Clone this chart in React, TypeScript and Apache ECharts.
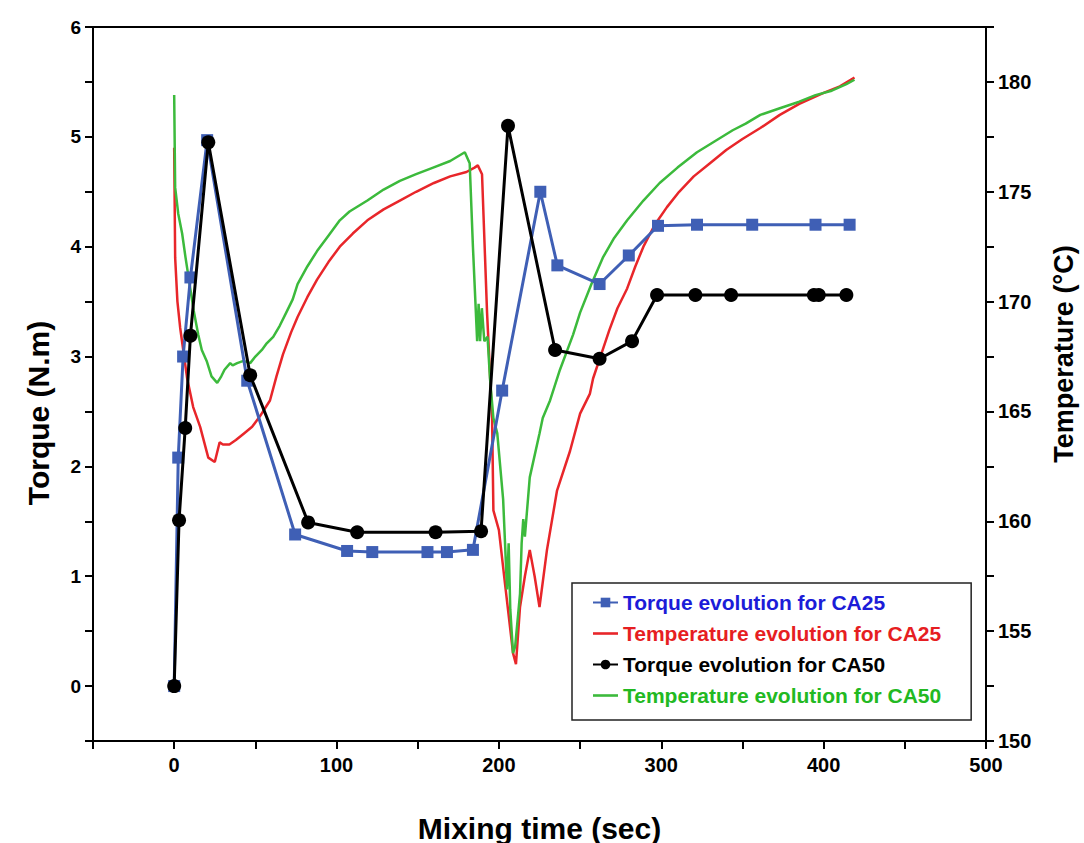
import React, { useEffect, useRef } from "react";
import * as echarts from "echarts";

const torqueCA25Time = [0, 2.5, 5.5, 10, 20.3, 45, 74.5, 106.5, 122, 156, 168, 184, 202, 225.5, 236, 262, 280, 298, 322, 356, 395, 416];
const torqueCA25Values = [0, 2.08, 3.0, 3.72, 4.97, 2.78, 1.38, 1.23, 1.22, 1.22, 1.22, 1.24, 2.69, 4.5, 3.83, 3.66, 3.92, 4.19, 4.2, 4.2, 4.2, 4.2];

const torqueCA50Time = [0, 3, 6.8, 10, 21, 46.8, 82.5, 112.7, 161, 189, 205.6, 234.6, 262, 282, 297.4, 321, 343, 394, 397, 414];
const torqueCA50Values = [0, 1.51, 2.35, 3.19, 4.95, 2.83, 1.49, 1.4, 1.4, 1.41, 5.1, 3.06, 2.98, 3.14, 3.56, 3.56, 3.56, 3.56, 3.56, 3.56];

const tempCA25Time = [0, 0.6, 2, 3.7, 8, 11.7, 16, 21, 25, 28, 30, 34, 38, 43, 48, 53, 59, 63, 67, 72, 76, 82, 88, 95, 102, 110, 119, 129, 139, 149, 160, 170, 180, 185, 187, 189.6, 192.7, 195.8, 196.6, 200, 204, 208.7, 210.5, 213, 216, 219, 222, 225, 229.6, 235.8, 243.8, 250, 256, 258, 263, 268, 273, 279, 284, 289, 296, 303.5, 311, 320, 330, 340, 350, 361, 373, 385, 400, 410, 419];
const tempCA25Values = [177, 172, 170, 168.8, 166.5, 165.2, 164.3, 162.9, 162.7, 163.6, 163.5, 163.5, 163.7, 164, 164.3, 164.8, 165.5, 166.6, 167.6, 168.6, 169.3, 170.2, 171, 171.8, 172.5, 173.1, 173.7, 174.2, 174.6, 175, 175.4, 175.7, 175.9, 176.1, 176.2, 175.8, 169.5, 164.7, 160.5, 159.6, 157, 154, 153.5, 156.1, 157.5, 158.7, 157.5, 156.1, 158.7, 161.4, 163.2, 164.9, 165.8, 166.5, 167.6, 168.7, 169.7, 170.6, 171.6, 172.5, 173.5, 174.3, 175, 175.7, 176.3, 176.9, 177.4, 177.9, 178.5, 179, 179.5, 179.8, 180.2];

const tempCA50Time = [0, 0.6, 2.5, 4.9, 7, 9.9, 12, 14.8, 17, 20, 23, 26.5, 29, 31, 34.5, 36, 38.8, 42.7, 46.8, 50, 54, 57, 61, 65, 69, 73, 76, 82, 88, 95, 102, 108, 119, 129, 139, 149, 159.5, 170, 179, 182, 184, 186.6, 187.5, 188.4, 189.5, 191, 193, 194.5, 196.6, 199, 202.6, 205, 206, 207, 208.7, 210, 213, 214, 215, 216, 219, 225, 227, 231.5, 237.6, 245.7, 250, 257, 264, 271, 279, 289, 299, 310, 322, 333, 344, 352, 361, 373, 385, 395, 405, 414, 419];
const tempCA50Values = [179.4, 175.2, 174, 173.1, 172, 170.6, 169.6, 168.5, 167.8, 167.3, 166.6, 166.3, 166.6, 166.9, 167.2, 167.1, 167.2, 167.3, 167.2, 167.5, 167.8, 168.1, 168.4, 168.9, 169.5, 170.1, 170.8, 171.6, 172.3, 173, 173.7, 174.1, 174.6, 175.1, 175.5, 175.8, 176.1, 176.4, 176.8, 176.3, 172.5, 168.2, 169.9, 168.2, 169.7, 168.2, 168.4, 166.5, 164.7, 164, 161, 156.9, 159, 156, 154, 154.3, 156.7, 159, 160.1, 159.3, 162, 164, 164.7, 165.5, 166.9, 168.5, 169.5, 170.8, 172, 172.9, 173.7, 174.6, 175.4, 176.1, 176.8, 177.3, 177.8, 178.1, 178.5, 178.8, 179.1, 179.4, 179.6, 179.9, 180.1];

const seriesNames = [
  "Torque evolution for CA25",
  "Temperature evolution for CA25",
  "Torque evolution for CA50",
  "Temperature evolution for CA50",
];

const zip = (xs: number[], ys: number[]) => xs.map((x, i) => [x, ys[i]]);

const NARROW = "'Liberation Sans Narrow', 'Arial Narrow', 'Liberation Sans', Arial, sans-serif";
const SANS = "'Liberation Sans', Arial, sans-serif";
const LINE_ICON = "path://M0,0 H25 V2.6 H0 Z";

export default function App() {
  const ref = useRef<HTMLDivElement>(null);
  useEffect(() => {
    if (!ref.current) return;
    const chart = echarts.init(ref.current, null, { renderer: "svg" });
    const tick = { show: true, inside: false, length: 8, lineStyle: { color: "#000", width: 2 } };
    const line = { show: true, onZero: false, lineStyle: { color: "#000", width: 2 } };
    chart.setOption({
      animation: false,
      backgroundColor: "#fff",
      grid: {
        left: 93,
        right: 98,
        top: 27,
        bottom: 102,
        show: true,
        borderColor: "#000",
        borderWidth: 2,
        containLabel: false,
        outerBoundsMode: "none",
      },
      legend: {
        orient: "vertical",
        left: 572,
        top: 583,
        padding: [9, 30, 14, 20],
        itemGap: 10,
        itemWidth: 25,
        itemHeight: 12,
        borderColor: "#222",
        borderWidth: 1.5,
        backgroundColor: "#fff",
        textStyle: { fontSize: 21, fontWeight: "bold", fontFamily: SANS },
        data: [
          { name: seriesNames[0], textStyle: { color: "#1c1cd8" } },
          { name: seriesNames[1], icon: LINE_ICON, itemStyle: { color: "#e8262a" }, textStyle: { color: "#e61e22" } },
          { name: seriesNames[2], textStyle: { color: "#000" } },
          { name: seriesNames[3], icon: LINE_ICON, itemStyle: { color: "#3cba3c" }, textStyle: { color: "#22b922" } },
        ],
      },
      xAxis: {
        type: "value",
        min: -50,
        max: 500,
        interval: 50,
        name: "Mixing time (sec)",
        nameLocation: "middle",
        nameGap: 72,
        nameTextStyle: { fontSize: 30, fontWeight: "bold", fontFamily: NARROW, color: "#000" },
        axisLine: line,
        axisTick: tick,
        splitLine: { show: false },
        axisLabel: {
          fontSize: 20,
          fontWeight: "bold",
          fontFamily: NARROW,
          color: "#000",
          margin: 14,
          formatter: (v: number) => (v % 100 === 0 ? String(v) : ""),
        },
      },
      yAxis: [
        {
          type: "value",
          position: "left",
          min: -0.5,
          max: 6,
          interval: 0.5,
          name: "Torque (N.m)",
          nameLocation: "middle",
          nameGap: 40,
          nameTextStyle: { fontSize: 30, fontWeight: "bold", fontFamily: NARROW, color: "#000", padding: [0, 58, 0, 0] },
          axisLine: line,
          axisTick: tick,
          splitLine: { show: false },
          axisLabel: {
            fontSize: 19,
            fontWeight: "bold",
            fontFamily: SANS,
            color: "#000",
            margin: 12,
            formatter: (v: number) => (Math.abs(v % 1) < 1e-9 ? String(Math.round(v)) : ""),
          },
        },
        {
          type: "value",
          position: "right",
          min: 150,
          max: 182.5,
          interval: 2.5,
          name: "Temperature (°C)",
          nameLocation: "middle",
          nameGap: 64,
          nameTextStyle: { fontSize: 27, fontWeight: "bold", fontFamily: NARROW, color: "#000", padding: [0, 0, 0, 60] },
          axisLine: line,
          axisTick: tick,
          splitLine: { show: false },
          axisLabel: {
            fontSize: 20,
            fontWeight: "bold",
            fontFamily: SANS,
            color: "#000",
            margin: 12,
            formatter: (v: number) => (Math.abs(v % 5) < 1e-9 ? String(Math.round(v)) : ""),
          },
        },
      ],
      series: [
        {
          name: seriesNames[1],
          type: "line",
          yAxisIndex: 1,
          data: zip(tempCA25Time, tempCA25Values),
          showSymbol: false,
          symbol: "none",
          lineStyle: { color: "#e8262a", width: 2.5 },
          itemStyle: { color: "#e8262a" },
          z: 2,
        },
        {
          name: seriesNames[3],
          type: "line",
          yAxisIndex: 1,
          data: zip(tempCA50Time, tempCA50Values),
          showSymbol: false,
          symbol: "none",
          lineStyle: { color: "#3cba3c", width: 2.5 },
          itemStyle: { color: "#3cba3c" },
          z: 3,
        },
        {
          name: seriesNames[0],
          type: "line",
          yAxisIndex: 0,
          data: zip(torqueCA25Time, torqueCA25Values),
          symbol: "rect",
          symbolSize: 12,
          lineStyle: { color: "#3f5fb5", width: 3 },
          itemStyle: { color: "#3f5fb5" },
          z: 4,
        },
        {
          name: seriesNames[2],
          type: "line",
          yAxisIndex: 0,
          data: zip(torqueCA50Time, torqueCA50Values),
          symbol: "circle",
          symbolSize: 14,
          lineStyle: { color: "#000", width: 3 },
          itemStyle: { color: "#000" },
          z: 5,
        },
      ],
    });
    return () => chart.dispose();
  }, []);
  return <div ref={ref} style={{ position: "absolute", left: 0, top: 0, width: 1084, height: 843 }} />;
}
